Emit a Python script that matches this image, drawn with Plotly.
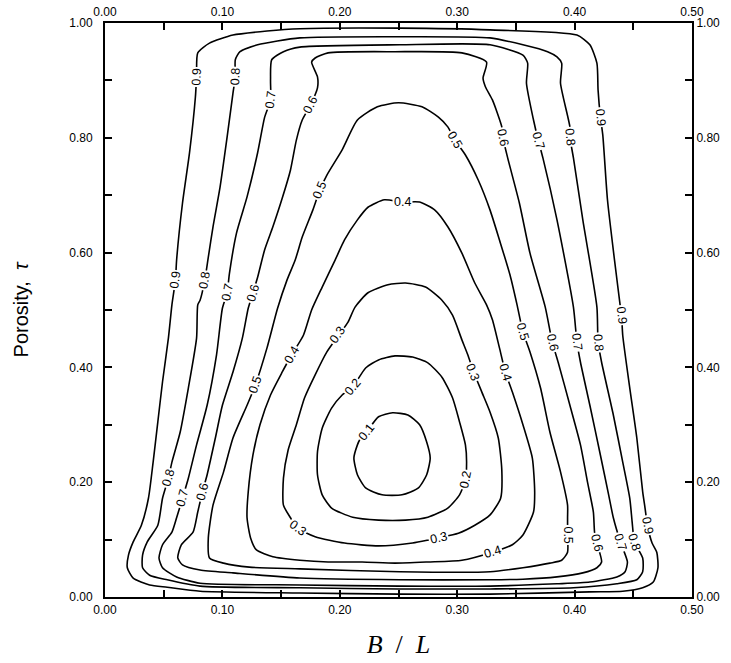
import plotly.graph_objects as go

# ---- contour levels and traced iso-lines (B/L, porosity) ----
levels = [0.1, 0.2, 0.3, 0.4, 0.5, 0.6, 0.7, 0.8, 0.9]

c01_x = [0.233,0.245,0.258,0.268,0.274,0.277,0.274,0.267,0.253,0.236,0.222,0.215,0.212,0.215,0.217,0.223,0.233]
c01_y = [0.314,0.321,0.317,0.300,0.270,0.242,0.213,0.190,0.178,0.178,0.190,0.213,0.242,0.265,0.274,0.288,0.314]

c02_x = [0.211,0.222,0.233,0.247,0.262,0.275,0.287,0.296,0.302,0.307,0.308,0.307,0.302,0.292,0.275,0.256,0.233,0.211,0.193,0.185,0.181,0.181,0.185,0.193,0.202,0.211]
c02_y = [0.366,0.399,0.413,0.420,0.418,0.408,0.383,0.347,0.305,0.265,0.235,0.204,0.178,0.155,0.139,0.134,0.134,0.139,0.155,0.178,0.213,0.253,0.294,0.329,0.352,0.366]

c03_x = [0.256,0.273,0.287,0.296,0.304,0.309,0.314,0.321,0.328,0.335,0.338,0.337,0.328,0.315,0.301,0.284,0.275,0.262,0.233,0.204,0.179,0.164,0.158,0.152,0.152,0.156,0.163,0.170,0.179,0.189,0.199,0.207,0.213,0.224,0.241,0.256]
c03_y = [0.547,0.540,0.517,0.491,0.448,0.422,0.392,0.357,0.322,0.277,0.221,0.172,0.143,0.125,0.111,0.103,0.099,0.094,0.089,0.094,0.105,0.120,0.138,0.160,0.207,0.256,0.300,0.347,0.387,0.427,0.456,0.479,0.505,0.530,0.544,0.547]

c04_x = [0.253,0.238,0.224,0.215,0.204,0.196,0.185,0.176,0.169,0.159,0.151,0.141,0.132,0.126,0.122,0.121,0.124,0.129,0.143,0.166,0.190,0.219,0.247,0.275,0.304,0.330,0.347,0.356,0.365,0.366,0.364,0.356,0.347,0.341,0.336,0.330,0.325,0.315,0.304,0.292,0.281,0.268,0.253]
c04_y = [0.688,0.692,0.679,0.657,0.622,0.587,0.540,0.500,0.456,0.422,0.392,0.352,0.300,0.247,0.183,0.138,0.103,0.082,0.070,0.064,0.061,0.061,0.059,0.061,0.064,0.078,0.091,0.108,0.148,0.183,0.242,0.300,0.357,0.392,0.434,0.483,0.509,0.547,0.599,0.645,0.674,0.688,0.688]

c05_x = [0.183,0.189,0.202,0.215,0.232,0.250,0.270,0.284,0.292,0.298,0.307,0.318,0.328,0.336,0.345,0.351,0.356,0.362,0.371,0.379,0.388,0.394,0.394,0.394,0.394,0.389,0.379,0.356,0.328,0.251,0.166,0.123,0.101,0.089,0.088,0.092,0.101,0.109,0.121,0.128,0.138,0.147,0.155,0.162,0.168,0.177,0.183]
c05_y = [0.709,0.735,0.779,0.831,0.854,0.861,0.854,0.836,0.819,0.796,0.770,0.726,0.674,0.622,0.561,0.509,0.462,0.427,0.364,0.287,0.218,0.160,0.138,0.108,0.078,0.064,0.059,0.051,0.044,0.044,0.049,0.052,0.059,0.068,0.103,0.160,0.218,0.277,0.334,0.369,0.434,0.503,0.552,0.587,0.627,0.674,0.709]

c06_x = [0.126,0.130,0.136,0.143,0.151,0.158,0.163,0.168,0.175,0.181,0.181,0.176,0.179,0.190,0.247,0.304,0.325,0.322,0.324,0.330,0.338,0.339,0.343,0.353,0.362,0.375,0.381,0.386,0.396,0.405,0.411,0.416,0.417,0.419,0.423,0.419,0.407,0.385,0.356,0.328,0.251,0.166,0.109,0.081,0.066,0.062,0.065,0.075,0.079,0.083,0.087,0.094,0.100,0.109,0.117,0.122,0.126]
c06_y = [0.530,0.557,0.605,0.645,0.695,0.744,0.796,0.831,0.857,0.887,0.906,0.932,0.939,0.948,0.950,0.948,0.932,0.904,0.889,0.866,0.819,0.800,0.765,0.686,0.599,0.505,0.444,0.409,0.334,0.265,0.200,0.148,0.113,0.094,0.061,0.051,0.042,0.035,0.031,0.030,0.030,0.033,0.042,0.047,0.056,0.068,0.091,0.113,0.148,0.183,0.213,0.277,0.334,0.392,0.451,0.503,0.530]

c07_x = [0.141,0.141,0.142,0.152,0.166,0.251,0.328,0.356,0.360,0.359,0.365,0.369,0.373,0.385,0.399,0.402,0.405,0.413,0.422,0.429,0.433,0.439,0.445,0.443,0.436,0.413,0.385,0.328,0.251,0.166,0.081,0.061,0.049,0.046,0.049,0.057,0.061,0.066,0.071,0.078,0.087,0.095,0.100,0.104,0.106,0.112,0.121,0.130,0.136,0.141]
c07_y = [0.866,0.901,0.936,0.950,0.958,0.962,0.962,0.944,0.930,0.895,0.831,0.796,0.765,0.657,0.505,0.444,0.409,0.334,0.247,0.178,0.138,0.096,0.061,0.044,0.035,0.026,0.023,0.019,0.019,0.021,0.024,0.035,0.051,0.068,0.091,0.113,0.138,0.172,0.207,0.265,0.334,0.422,0.503,0.530,0.564,0.634,0.697,0.774,0.836,0.866]

c08_x = [0.111,0.111,0.115,0.130,0.166,0.251,0.328,0.356,0.377,0.385,0.389,0.388,0.396,0.396,0.399,0.407,0.419,0.420,0.423,0.433,0.441,0.447,0.449,0.451,0.458,0.458,0.453,0.436,0.399,0.328,0.251,0.166,0.081,0.053,0.038,0.032,0.032,0.036,0.045,0.049,0.054,0.057,0.064,0.071,0.078,0.079,0.081,0.085,0.088,0.092,0.098,0.104,0.109,0.111]
c08_y = [0.906,0.936,0.950,0.962,0.974,0.976,0.974,0.962,0.950,0.941,0.930,0.895,0.819,0.801,0.765,0.657,0.505,0.444,0.409,0.317,0.235,0.172,0.131,0.096,0.068,0.044,0.030,0.023,0.016,0.014,0.014,0.016,0.019,0.030,0.038,0.051,0.073,0.096,0.125,0.172,0.207,0.235,0.287,0.364,0.451,0.509,0.517,0.552,0.592,0.645,0.714,0.801,0.878,0.906]

c09_x = [0.078,0.079,0.089,0.109,0.138,0.166,0.251,0.328,0.402,0.413,0.419,0.420,0.422,0.424,0.428,0.434,0.439,0.440,0.441,0.447,0.453,0.458,0.460,0.462,0.466,0.470,0.471,0.467,0.458,0.441,0.413,0.328,0.251,0.166,0.081,0.053,0.038,0.024,0.019,0.020,0.024,0.031,0.037,0.041,0.045,0.049,0.054,0.057,0.060,0.061,0.066,0.072,0.077,0.078]
c09_y = [0.906,0.948,0.965,0.979,0.986,0.990,0.991,0.988,0.979,0.962,0.930,0.883,0.836,0.805,0.692,0.587,0.505,0.491,0.456,0.364,0.277,0.183,0.155,0.125,0.094,0.078,0.051,0.026,0.016,0.010,0.009,0.005,0.005,0.007,0.010,0.017,0.021,0.033,0.051,0.073,0.096,0.125,0.172,0.235,0.305,0.375,0.451,0.509,0.552,0.587,0.686,0.774,0.871,0.906]

contour_x = [c01_x, c02_x, c03_x, c04_x, c05_x, c06_x, c07_x, c08_x, c09_x]
contour_y = [c01_y, c02_y, c03_y, c04_y, c05_y, c06_y, c07_y, c08_y, c09_y]

# ---- inline contour labels ----
label_text = ["0.1",
              "0.2", "0.2",
              "0.3", "0.3", "0.3", "0.3",
              "0.4", "0.4", "0.4", "0.4",
              "0.5", "0.5", "0.5", "0.5", "0.5",
              "0.6", "0.6", "0.6", "0.6", "0.6", "0.6",
              "0.7", "0.7", "0.7", "0.7", "0.7", "0.7",
              "0.8", "0.8", "0.8", "0.8", "0.8", "0.8",
              "0.9", "0.9", "0.9", "0.9", "0.9"]
label_x = [0.223,
           0.211, 0.307,
           0.198, 0.313, 0.284, 0.164,
           0.253, 0.159, 0.341, 0.330,
           0.183, 0.298, 0.128, 0.356, 0.394,
           0.175, 0.126, 0.083, 0.339, 0.381, 0.419,
           0.141, 0.104, 0.066, 0.369, 0.402, 0.439,
           0.111, 0.085, 0.054, 0.396, 0.420, 0.451,
           0.078, 0.060, 0.422, 0.440, 0.462]
label_y = [0.287,
           0.366, 0.204,
           0.456, 0.392, 0.103, 0.120,
           0.688, 0.422, 0.392, 0.078,
           0.709, 0.796, 0.369, 0.462, 0.108,
           0.857, 0.530, 0.183, 0.800, 0.444, 0.094,
           0.866, 0.530, 0.172, 0.796, 0.444, 0.096,
           0.906, 0.552, 0.207, 0.801, 0.444, 0.096,
           0.906, 0.552, 0.836, 0.491, 0.125]
label_angle = [-52,
               -50, -78,
               -55, 69, -13, 37,
               0, -60, 75, -17,
               -67, 59, -71, 74, 90,
               -63, -74, -76, 79, 77, 77,
               -82, -79, -75, 75, 83, 72,
               -87, -80, -74, 84, 85, 73,
               -88, -82, 84, 84, 79]

x_tickvals = [0.0, 0.1, 0.2, 0.3, 0.4, 0.5]
y_tickvals = [0.0, 0.2, 0.4, 0.6, 0.8, 1.0]

fig = go.Figure()
for lev, xs, ys in zip(levels, contour_x, contour_y):
    fig.add_trace(go.Scatter(
        x=xs, y=ys, mode="lines", name=f"{lev:.1f}",
        line=dict(color="black", width=1.6, shape="spline", smoothing=0.6),
        hoverinfo="skip", showlegend=False))

# invisible companion trace so the top / right labelled axes are drawn
fig.add_trace(go.Scatter(x=c09_x, y=c09_y, xaxis="x2", yaxis="y2", mode="lines",
                         line=dict(width=0, color="rgba(0,0,0,0)"),
                         hoverinfo="skip", showlegend=False))

for t, lx, ly, a in zip(label_text, label_x, label_y, label_angle):
    fig.add_annotation(x=lx, y=ly, xref="x", yref="y", text=t, textangle=a,
                       showarrow=False, bgcolor="white", borderpad=1,
                       font=dict(family="Liberation Sans, Arial, sans-serif", size=12.5, color="black"))

tick_font = dict(family="Liberation Sans, Arial, sans-serif", size=12, color="black")
common = dict(showline=True, linecolor="black", linewidth=2, ticks="inside", ticklen=7,
              tickwidth=1.5, tickcolor="black", showgrid=False, zeroline=False,
              tickfont=tick_font, tickformat=".2f", automargin=False)

fig.update_layout(
    width=731, height=663,
    margin=dict(l=105, r=39, t=23, b=66, autoexpand=False),
    paper_bgcolor="white", plot_bgcolor="white",
    hovermode=False,
    xaxis=dict(range=[0, 0.5], tickvals=x_tickvals,
               minor=dict(dtick=0.05, tick0=0, ticks="inside", ticklen=7, tickwidth=1.5, tickcolor="black"),
               ticklabelstandoff=1,
               title=dict(text="<i>B</i>  /  <i>L</i>", standoff=18,
                          font=dict(family="Liberation Serif, Times New Roman, serif", size=26, color="black")),
               **common),
    yaxis=dict(range=[0, 1], tickvals=y_tickvals,
               minor=dict(dtick=0.1, tick0=0, ticks="inside", ticklen=7, tickwidth=1.5, tickcolor="black"),
               ticklabelstandoff=8,
               title=dict(text="Porosity,  <i>τ</i>", standoff=35,
                          font=dict(family="Liberation Sans, Arial, sans-serif", size=20, color="black")),
               **common),
    xaxis2=dict(range=[0, 0.5], tickvals=x_tickvals, overlaying="x", side="top", anchor="y",
                minor=dict(dtick=0.05, tick0=0, ticks="inside", ticklen=7, tickwidth=1.5, tickcolor="black"),
                ticklabelstandoff=0, **common),
    yaxis2=dict(range=[0, 1], tickvals=y_tickvals, overlaying="y", side="right", anchor="x",
                minor=dict(dtick=0.1, tick0=0, ticks="inside", ticklen=7, tickwidth=1.5, tickcolor="black"),
                ticklabelstandoff=0, **common),
)

# the default page body margin would push the 731x663 figure out of the window
fig.write_html("out.html", config={"displayModeBar": False},
               post_script="document.body.style.margin='0';")
